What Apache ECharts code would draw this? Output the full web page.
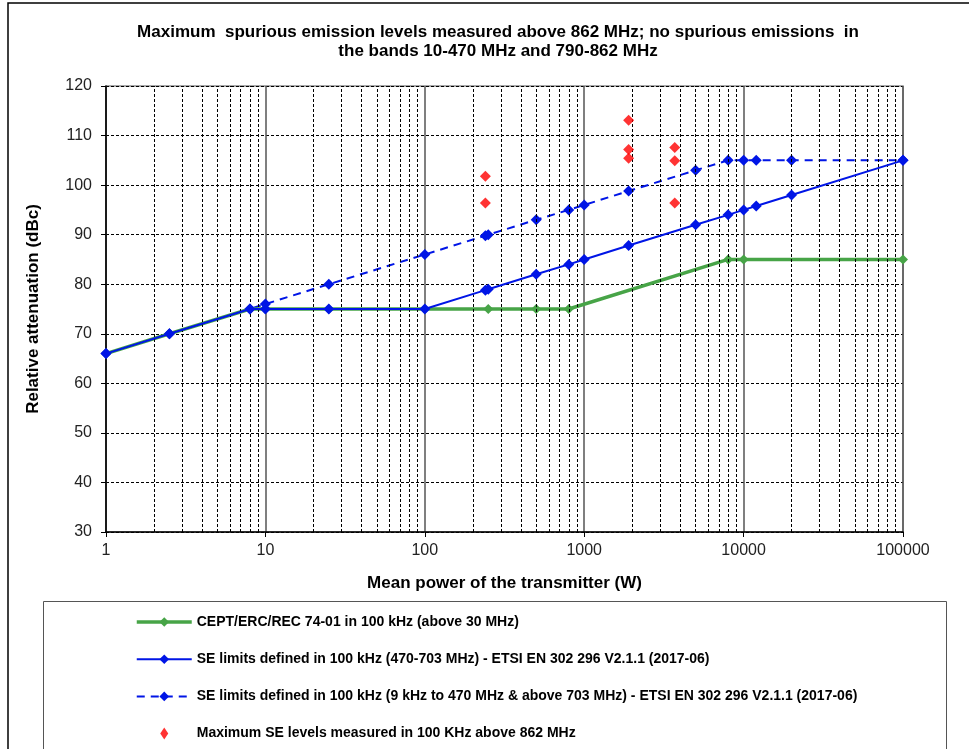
<!DOCTYPE html>
<html>
<head>
<meta charset="utf-8">
<script src="https://cdn.jsdelivr.net/npm/echarts@6/dist/echarts.min.js"></script>
<style>
  html, body { margin: 0; padding: 0; background: #fff; }
  #chart { width: 969px; height: 749px; }
</style>
</head>
<body>
<div id="chart"></div>
<script>
// Transmitter mean power (W) and relative attenuation limits (dBc)
const ceptPower = [1, 2.5, 8, 10, 25, 100, 250, 500, 800, 8000, 10000, 100000];
const ceptAtten = [66, 70, 75, 75, 75, 75, 75, 75, 75, 85, 85, 85];

const etsiInBandPower = [1, 2.5, 8, 10, 25, 100, 240, 250, 500, 800, 1000, 1900, 5000, 8000, 10000, 12000, 20000, 100000];
const etsiInBandAtten = [66, 70, 75, 75, 75, 75, 78.8, 79, 82, 84, 85, 87.8, 92, 94, 95, 95.8, 98, 105];

const etsiOutBandPower = [1, 2.5, 8, 10, 25, 100, 240, 250, 500, 800, 1000, 1900, 5000, 8000, 10000, 12000, 20000, 100000];
const etsiOutBandAtten = [66, 70, 75, 76, 80, 86, 89.8, 90, 93, 95, 96, 98.8, 103, 105, 105, 105, 105, 105];

// Measured maximum spurious emission levels above 862 MHz
const measuredPower = [240, 240, 1900, 1900, 1900, 3700, 3700, 3700];
const measuredAtten = [101.8, 96.4, 113.1, 107.2, 105.4, 107.6, 104.9, 96.4];

const seriesNames = [
  'CEPT/ERC/REC 74-01 in 100 kHz (above 30 MHz)',
  'SE limits defined in 100 kHz (470-703 MHz) - ETSI EN 302 296 V2.1.1 (2017-06)',
  'SE limits defined in 100 kHz (9 kHz to 470 MHz & above 703 MHz) - ETSI EN 302 296 V2.1.1 (2017-06)',
  'Maximum SE levels measured in 100 KHz above 862 MHz'
];

// Minor log grid positions (2..9 within each decade)
const minorGrid = [];
for (let d = 1; d < 100000; d *= 10) {
  for (let m = 2; m <= 9; m++) minorGrid.push(m * d);
}

const pairs = (xs, ys) => xs.map((x, i) => [x, ys[i]]);

const GREEN = '#47a447';
const BLUE = '#0015e6';
const RED = '#ff0000';
const FONT = '"Liberation Sans", Arial, sans-serif';
const DIAMOND = 'path://M0,-6L4,0L0,6L-4,0Z';

const chart = echarts.init(document.getElementById('chart'), null, { renderer: 'canvas' });

chart.setOption({
  animation: false,
  backgroundColor: '#ffffff',
  textStyle: { fontFamily: FONT },
  title: {
    text: 'Maximum  spurious emission levels measured above 862 MHz; no spurious emissions  in\nthe bands 10-470 MHz and 790-862 MHz',
    left: 493,
    top: 18,
    textAlign: 'center',
    textStyle: { fontFamily: FONT, fontSize: 17, fontWeight: 'bold', color: '#000', lineHeight: 19, align: 'center' }
  },
  grid: {
    left: 106, top: 86, width: 797, height: 446,
    show: true, borderColor: '#8c8c8c', borderWidth: 1.5, backgroundColor: 'transparent'
  },
  graphic: [
    { type: 'rect', shape: { x: 8, y: 3, width: 980, height: 800 }, style: { fill: 'none', stroke: '#000', lineWidth: 1.5 }, silent: true, z: -10 },
    { type: 'rect', shape: { x: 43.5, y: 601.5, width: 903, height: 200 }, style: { fill: 'none', stroke: '#555', lineWidth: 1 }, silent: true, z: -10 }
  ],
  legend: {
    orient: 'vertical',
    left: 135,
    top: 615,
    padding: 0,
    height: 134,
    itemWidth: 55,
    itemHeight: 12,
    itemGap: 23.2,
    symbolKeepAspect: true,
    textStyle: { fontFamily: FONT, fontSize: 14, fontWeight: 'bold', color: '#000' },
    data: [
      { name: seriesNames[0], lineStyle: { width: 3.5 } },
      { name: seriesNames[1], lineStyle: { width: 2 } },
      { name: seriesNames[2], lineStyle: { width: 2 } },
      { name: seriesNames[3], icon: DIAMOND }
    ]
  },
  xAxis: {
    type: 'log',
    logBase: 10,
    min: 1,
    max: 100000,
    name: 'Mean power of the transmitter (W)',
    nameLocation: 'middle',
    nameGap: 43,
    nameTextStyle: { fontFamily: FONT, fontSize: 17, fontWeight: 'bold', color: '#000' },
    axisLine: { lineStyle: { color: '#000', width: 1.5 } },
    axisTick: { show: true, length: 5, lineStyle: { color: '#000' } },
    axisLabel: { fontFamily: FONT, fontSize: 16, color: '#222', margin: 11, formatter: v => String(v) },
    splitLine: { show: true, lineStyle: { color: '#555', width: 1.5, type: 'solid' } }
  },
  yAxis: {
    type: 'value',
    min: 30,
    max: 120,
    interval: 10,
    name: 'Relative attenuation (dBc)',
    nameLocation: 'middle',
    nameGap: 64,
    nameTextStyle: { fontFamily: FONT, fontSize: 17, fontWeight: 'bold', color: '#000' },
    axisLine: { show: true, lineStyle: { color: '#000', width: 1.5 } },
    axisTick: { show: true, length: 5, lineStyle: { color: '#000' } },
    axisLabel: { fontFamily: FONT, fontSize: 16, color: '#222', margin: 14 },
    splitLine: { show: true, lineStyle: { color: '#000', width: 1, type: [3, 2] } }
  },
  series: [
    {
      name: 'minor-grid',
      type: 'line',
      data: [],
      silent: true,
      z: 0,
      markLine: {
        silent: true,
        symbol: 'none',
        animation: false,
        label: { show: false },
        lineStyle: { color: '#000', width: 1, type: [3, 2] },
        data: minorGrid.map(v => ({ xAxis: v }))
      }
    },
    {
      name: seriesNames[2],
      type: 'line',
      data: pairs(etsiOutBandPower, etsiOutBandAtten),
      symbol: 'diamond',
      symbolSize: 11,
      lineStyle: { color: BLUE, width: 2, type: [8, 6] },
      itemStyle: { color: BLUE },
      z: 3
    },
    {
      name: seriesNames[0],
      type: 'line',
      data: pairs(ceptPower, ceptAtten),
      symbol: 'diamond',
      symbolSize: 10,
      lineStyle: { color: GREEN, width: 3.5 },
      itemStyle: { color: GREEN },
      z: 4
    },
    {
      name: seriesNames[1],
      type: 'line',
      data: pairs(etsiInBandPower, etsiInBandAtten),
      symbol: 'diamond',
      symbolSize: 11,
      lineStyle: { color: BLUE, width: 2 },
      itemStyle: { color: BLUE },
      z: 5
    },
    {
      name: seriesNames[3],
      type: 'scatter',
      data: pairs(measuredPower, measuredAtten),
      symbol: 'diamond',
      symbolSize: 11,
      itemStyle: { color: RED },
      z: 6
    }
  ]
});
</script>
</body>
</html>
